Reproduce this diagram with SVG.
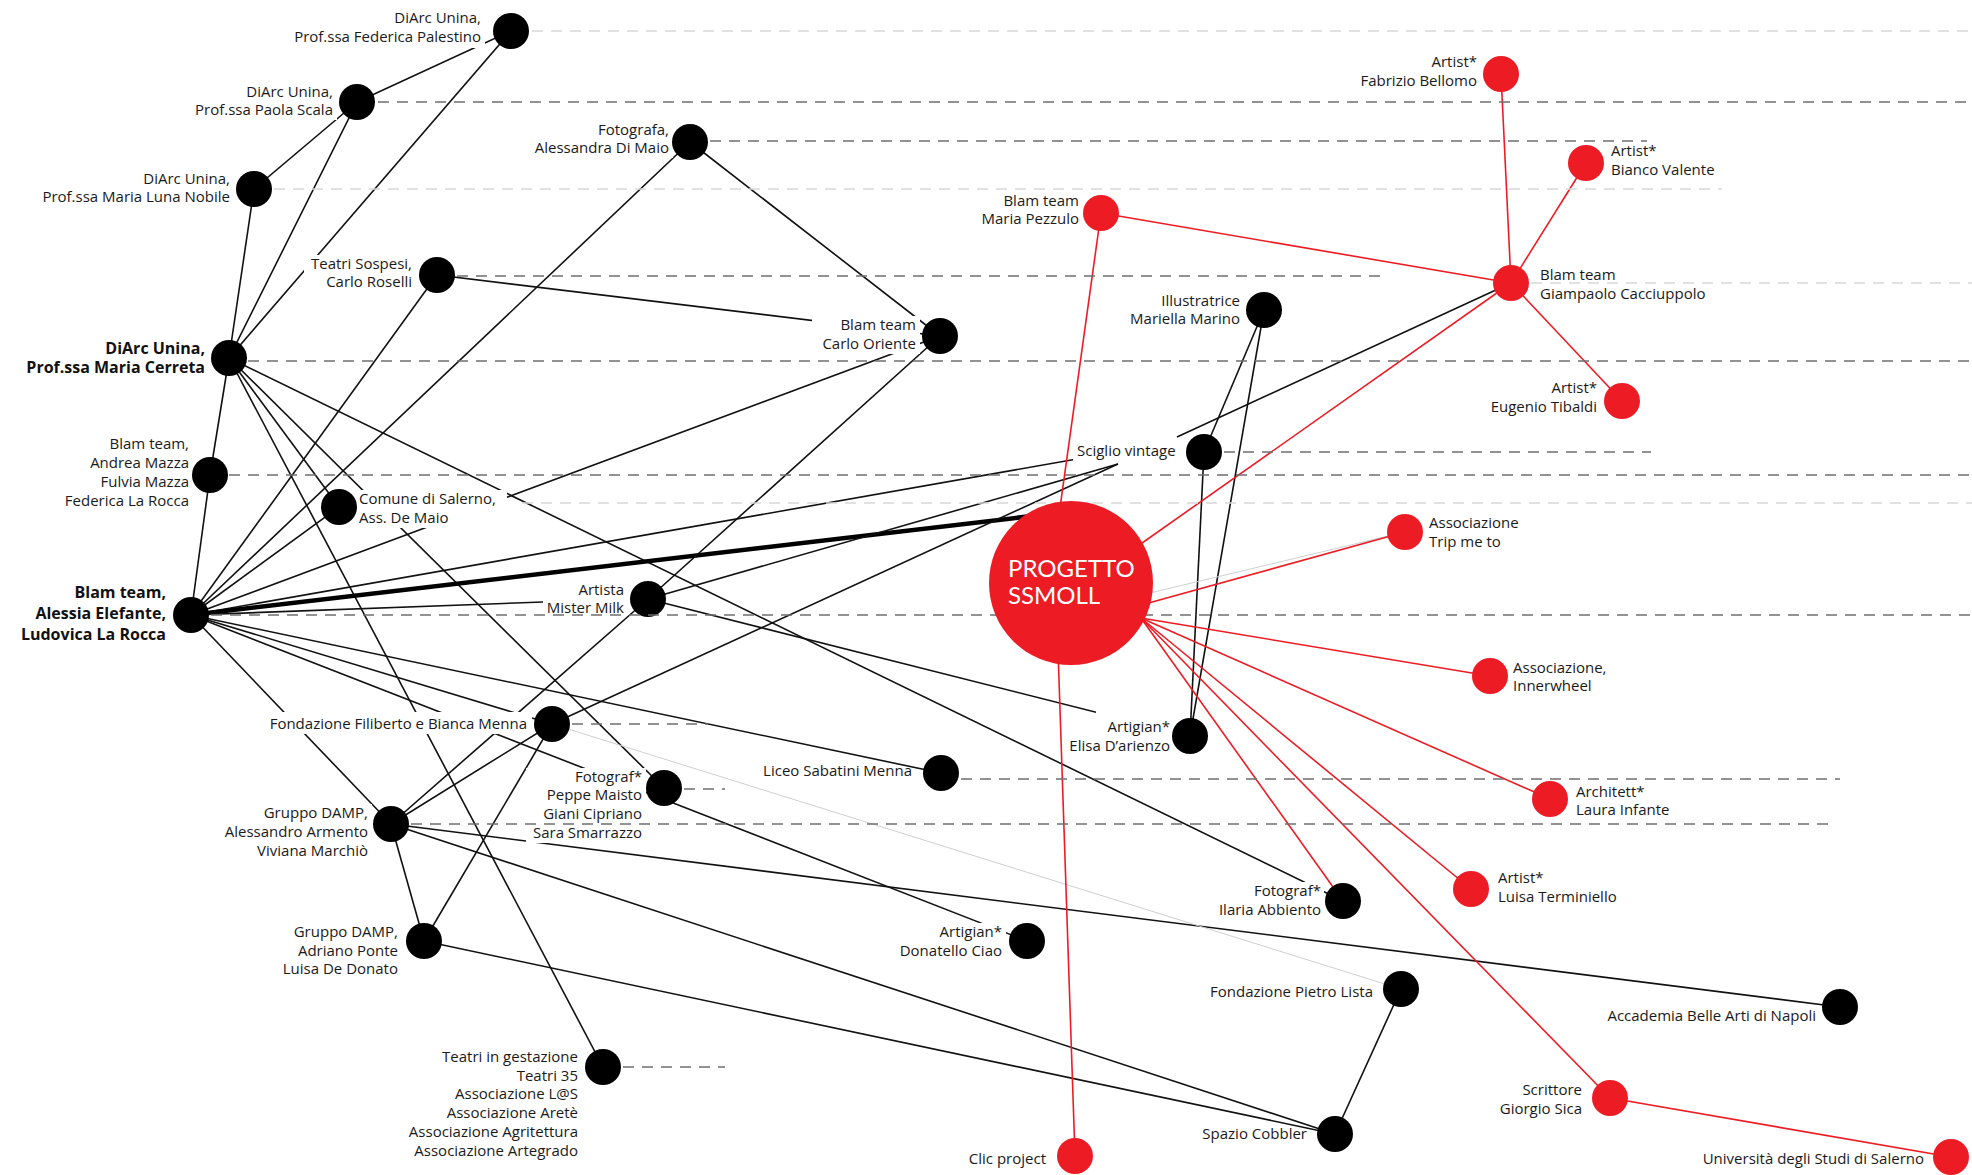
<svg xmlns="http://www.w3.org/2000/svg" width="1972" height="1175" viewBox="0 0 1972 1175">
<defs>
<style>
.e{stroke:#111;stroke-width:1.6;fill:none}
.tk{stroke:#000;stroke-width:4.5;fill:none}
.r{stroke:#ed1c24;stroke-width:1.6;fill:none}
.g{stroke:#cfcfcf;stroke-width:1;fill:none}
.dd{stroke:#6f6f6f;stroke-width:1.5;stroke-dasharray:11 8;fill:none}
.dl{stroke:#d8d8d8;stroke-width:1.5;stroke-dasharray:11 8;fill:none}
.nb{fill:#000}
.nr{fill:#ed1c24}
.bg{fill:#fff}
text{font-family:"Open Sans",Lato,"Liberation Sans",sans-serif;font-size:15px;fill:#1a1a1a}
text.b{font-weight:bold;font-size:16px;fill:#111}
text.c{font-family:Lato,"Open Sans",sans-serif;font-size:24px;fill:#fff}
</style>
</defs>
<rect width="1972" height="1175" fill="#fff"/>

<g id="connectors">
<line class="e" x1="511" y1="31" x2="357" y2="102"/>
<line class="e" x1="511" y1="31" x2="229" y2="358"/>
<line class="e" x1="357" y1="102" x2="254" y2="189"/>
<line class="e" x1="357" y1="102" x2="229" y2="358"/>
<line class="e" x1="254" y1="189" x2="229" y2="358"/>
<line class="e" x1="437" y1="275" x2="940" y2="336"/>
<line class="e" x1="437" y1="275" x2="191" y2="615"/>
<line class="e" x1="229" y1="358" x2="210" y2="475"/>
<line class="e" x1="210" y1="475" x2="191" y2="615"/>
<line class="e" x1="229" y1="358" x2="339" y2="507"/>
<line class="e" x1="229" y1="358" x2="664" y2="788"/>
<line class="e" x1="229" y1="358" x2="603" y2="1067"/>
<line class="e" x1="229" y1="358" x2="1343" y2="901"/>
<line class="e" x1="191" y1="615" x2="339" y2="507"/>
<line class="e" x1="191" y1="615" x2="690" y2="142"/>
<line class="e" x1="191" y1="615" x2="940" y2="336"/>
<line class="e" x1="191" y1="615" x2="1077" y2="459"/>
<line class="tk" x1="191" y1="615" x2="1032" y2="516"/>
<line class="e" x1="191" y1="615" x2="543" y2="602"/>
<line class="e" x1="191" y1="615" x2="941" y2="773"/>
<line class="e" x1="191" y1="615" x2="552" y2="724"/>
<line class="e" x1="191" y1="615" x2="1027" y2="941"/>
<line class="e" x1="191" y1="615" x2="391" y2="824"/>
<line class="e" x1="690" y1="142" x2="940" y2="336"/>
<line class="e" x1="940" y1="336" x2="648" y2="599"/>
<line class="e" x1="648" y1="599" x2="391" y2="824"/>
<line class="e" x1="648" y1="599" x2="1118" y2="464"/>
<line class="e" x1="648" y1="599" x2="1190" y2="736"/>
<line class="e" x1="552" y1="724" x2="1118" y2="464"/>
<line class="e" x1="1511" y1="283" x2="1177" y2="437"/>
<line class="e" x1="552" y1="724" x2="391" y2="824"/>
<line class="e" x1="552" y1="724" x2="424" y2="941"/>
<line class="e" x1="391" y1="824" x2="424" y2="941"/>
<line class="e" x1="391" y1="824" x2="1840" y2="1007"/>
<line class="e" x1="391" y1="824" x2="1335" y2="1134"/>
<line class="e" x1="424" y1="941" x2="1335" y2="1134"/>
<line class="e" x1="1335" y1="1134" x2="1401" y2="989"/>
<line class="e" x1="1264" y1="310" x2="1204" y2="452"/>
<line class="e" x1="1264" y1="310" x2="1190" y2="736"/>
<line class="e" x1="1204" y1="452" x2="1190" y2="736"/>
<line class="g" x1="552" y1="724" x2="1401" y2="989"/>
<line class="g" x1="1150" y1="593" x2="1405" y2="532"/>
<line class="r" x1="1101" y1="213" x2="1511" y2="283"/>
<line class="r" x1="1101" y1="213" x2="1059" y2="515"/>
<line class="r" x1="1058" y1="650" x2="1075" y2="1156"/>
<line class="r" x1="1501" y1="74" x2="1511" y2="283"/>
<line class="r" x1="1586" y1="163" x2="1511" y2="283"/>
<line class="r" x1="1511" y1="283" x2="1622" y2="401"/>
<line class="r" x1="1511" y1="283" x2="1135" y2="548"/>
<line class="r" x1="1145" y1="604" x2="1405" y2="532"/>
<line class="r" x1="1141" y1="618" x2="1490" y2="676"/>
<line class="r" x1="1141" y1="618" x2="1550" y2="799"/>
<line class="r" x1="1141" y1="618" x2="1471" y2="889"/>
<line class="r" x1="1141" y1="618" x2="1610" y2="1098"/>
<line class="r" x1="1141" y1="618" x2="1343" y2="901"/>
<line class="r" x1="1610" y1="1098" x2="1951" y2="1157"/>
</g>

<g id="n-palestino"><rect class="bg" x="284" y="9" width="201" height="39"/><text text-anchor="end"><tspan x="481" y="23">DiArc Unina,</tspan><tspan x="481" y="42">Prof.ssa Federica Palestino</tspan></text><circle class="nb" cx="511" cy="31" r="18"/></g>
<g id="n-scala"><rect class="bg" x="187" y="83" width="150" height="37"/><text text-anchor="end"><tspan x="333" y="97">DiArc Unina,</tspan><tspan x="333" y="115">Prof.ssa Paola Scala</tspan></text><circle class="nb" cx="357" cy="102" r="18"/></g>
<g id="n-nobile"><rect class="bg" x="32" y="170" width="202" height="37"/><text text-anchor="end"><tspan x="230" y="184">DiArc Unina,</tspan><tspan x="230" y="202">Prof.ssa Maria Luna Nobile</tspan></text><circle class="nb" cx="254" cy="189" r="18"/></g>
<g id="n-sospesi"><rect class="bg" x="304" y="255" width="113" height="37"/><text text-anchor="end"><tspan x="412" y="269">Teatri Sospesi,</tspan><tspan x="412" y="287">Carlo Roselli</tspan></text><circle class="nb" cx="437" cy="275" r="18"/></g>
<g id="n-cerreta"><rect class="bg" x="20" y="339" width="190" height="39"/><text class="b" text-anchor="end"><tspan x="205" y="354">DiArc Unina,</tspan><tspan x="205" y="373">Prof.ssa Maria Cerreta</tspan></text><circle class="nb" cx="229" cy="358" r="18"/></g>
<g id="n-mazza"><rect class="bg" x="53" y="435" width="140" height="76"/><text text-anchor="end"><tspan x="189" y="449">Blam team,</tspan><tspan x="189" y="468">Andrea Mazza</tspan><tspan x="189" y="487">Fulvia Mazza</tspan><tspan x="189" y="506">Federica La Rocca</tspan></text><circle class="nb" cx="210" cy="475" r="18"/></g>
<g id="n-comune"><rect class="bg" x="355" y="490" width="152" height="38"/><text><tspan x="359" y="504">Comune di Salerno,</tspan><tspan x="359" y="523">Ass. De Maio</tspan></text><circle class="nb" cx="339" cy="507" r="18"/></g>
<g id="n-elefante"><rect class="bg" x="9" y="583" width="162" height="62"/><text class="b" text-anchor="end"><tspan x="166" y="598">Blam team,</tspan><tspan x="166" y="619">Alessia Elefante,</tspan><tspan x="166" y="640">Ludovica La Rocca</tspan></text><circle class="nb" cx="191" cy="615" r="18"/></g>
<g id="n-dimaio"><rect class="bg" x="526" y="121" width="147" height="37"/><text text-anchor="end"><tspan x="669" y="135">Fotografa,</tspan><tspan x="669" y="153">Alessandra Di Maio</tspan></text><circle class="nb" cx="690" cy="142" r="18"/></g>
<g id="n-oriente"><rect class="bg" x="812" y="316" width="108" height="38"/><text text-anchor="end"><tspan x="916" y="330">Blam team</tspan><tspan x="916" y="349">Carlo Oriente</tspan></text><circle class="nb" cx="940" cy="336" r="18"/></g>
<g id="n-milk"><text text-anchor="end"><tspan x="624" y="595">Artista</tspan><tspan x="624" y="613">Mister Milk</tspan></text><circle class="nb" cx="648" cy="599" r="18"/></g>
<g id="n-filiberto"><rect class="bg" x="251" y="712" width="281" height="22"/><text text-anchor="end"><tspan x="527" y="729">Fondazione Filiberto e Bianca Menna</tspan></text><circle class="nb" cx="552" cy="724" r="18"/></g>
<g id="n-maisto"><rect class="bg" x="526" y="768" width="120" height="75"/><text text-anchor="end"><tspan x="642" y="782">Fotograf*</tspan><tspan x="642" y="800">Peppe Maisto</tspan><tspan x="642" y="819">Giani Cipriano</tspan><tspan x="642" y="838">Sara Smarrazzo</tspan></text><circle class="nb" cx="664" cy="788" r="18"/></g>
<g id="n-liceo"><text text-anchor="end"><tspan x="912" y="776">Liceo Sabatini Menna</tspan></text><circle class="nb" cx="941" cy="773" r="18"/></g>
<g id="n-armento"><rect class="bg" x="214" y="804" width="158" height="57"/><text text-anchor="end"><tspan x="368" y="818">Gruppo DAMP,</tspan><tspan x="368" y="837">Alessandro Armento</tspan><tspan x="368" y="856">Viviana Marchiò</tspan></text><circle class="nb" cx="391" cy="824" r="18"/></g>
<g id="n-adriano"><rect class="bg" x="274" y="923" width="128" height="56"/><text text-anchor="end"><tspan x="398" y="937">Gruppo DAMP,</tspan><tspan x="398" y="956">Adriano Ponte</tspan><tspan x="398" y="974">Luisa De Donato</tspan></text><circle class="nb" cx="424" cy="941" r="18"/></g>
<g id="n-gestazione"><rect class="bg" x="395" y="1048" width="187" height="113"/><text text-anchor="end"><tspan x="578" y="1062">Teatri in gestazione</tspan><tspan x="578" y="1081">Teatri 35</tspan><tspan x="578" y="1099">Associazione L@S</tspan><tspan x="578" y="1118">Associazione Aretè</tspan><tspan x="578" y="1137">Associazione Agritettura</tspan><tspan x="578" y="1156">Associazione Artegrado</tspan></text><circle class="nb" cx="603" cy="1067" r="18"/></g>
<g id="n-donatello"><rect class="bg" x="889" y="923" width="117" height="38"/><text text-anchor="end"><tspan x="1002" y="937">Artigian*</tspan><tspan x="1002" y="956">Donatello Ciao</tspan></text><circle class="nb" cx="1027" cy="941" r="18"/></g>
<g id="n-mariella"><rect class="bg" x="1122" y="292" width="122" height="37"/><text text-anchor="end"><tspan x="1240" y="306">Illustratrice</tspan><tspan x="1240" y="324">Mariella Marino</tspan></text><circle class="nb" cx="1264" cy="310" r="18"/></g>
<g id="n-sciglio"><rect class="bg" x="1073" y="441" width="114" height="20"/><text><tspan x="1077" y="456">Sciglio vintage</tspan></text><circle class="nb" cx="1204" cy="452" r="18"/></g>
<g id="n-elisa"><rect class="bg" x="1096" y="710" width="78" height="27"/><rect class="bg" x="1065" y="737" width="109" height="19"/><text text-anchor="end"><tspan x="1170" y="732">Artigian*</tspan><tspan x="1170" y="751">Elisa D’arienzo</tspan></text><circle class="nb" cx="1190" cy="736" r="18"/></g>
<g id="n-ilaria"><rect class="bg" x="1210" y="882" width="114" height="38"/><text text-anchor="end"><tspan x="1321" y="896">Fotograf*</tspan><tspan x="1321" y="915">Ilaria Abbiento</tspan></text><circle class="nb" cx="1343" cy="901" r="18"/></g>
<g id="n-lista"><text text-anchor="end"><tspan x="1373" y="997">Fondazione Pietro Lista</tspan></text><circle class="nb" cx="1401" cy="989" r="18"/></g>
<g id="n-cobbler"><text text-anchor="end"><tspan x="1307" y="1139">Spazio Cobbler</tspan></text><circle class="nb" cx="1335" cy="1134" r="18"/></g>
<g id="n-accademia"><text text-anchor="end"><tspan x="1816" y="1021">Accademia Belle Arti di Napoli</tspan></text><circle class="nb" cx="1840" cy="1007" r="18"/></g>

<g id="n-bellomo"><text text-anchor="end"><tspan x="1477" y="67">Artist*</tspan><tspan x="1477" y="86">Fabrizio Bellomo</tspan></text><circle class="nr" cx="1501" cy="74" r="18"/></g>
<g id="n-valente"><text><tspan x="1611" y="156">Artist*</tspan><tspan x="1611" y="175">Bianco Valente</tspan></text><circle class="nr" cx="1586" cy="163" r="18"/></g>
<g id="n-pezzulo"><text text-anchor="end"><tspan x="1079" y="206">Blam team</tspan><tspan x="1079" y="224">Maria Pezzulo</tspan></text><circle class="nr" cx="1101" cy="213" r="18"/></g>
<g id="n-giampaolo"><text><tspan x="1540" y="280">Blam team</tspan><tspan x="1540" y="299">Giampaolo Cacciuppolo</tspan></text><circle class="nr" cx="1511" cy="283" r="18"/></g>
<g id="n-tibaldi"><text text-anchor="end"><tspan x="1597" y="393">Artist*</tspan><tspan x="1597" y="412">Eugenio Tibaldi</tspan></text><circle class="nr" cx="1622" cy="401" r="18"/></g>
<g id="n-trip"><text><tspan x="1429" y="528">Associazione</tspan><tspan x="1429" y="547">Trip me to</tspan></text><circle class="nr" cx="1405" cy="532" r="18"/></g>
<g id="n-innerwheel"><text><tspan x="1513" y="673">Associazione,</tspan><tspan x="1513" y="691">Innerwheel</tspan></text><circle class="nr" cx="1490" cy="676" r="18"/></g>
<g id="n-infante"><text><tspan x="1576" y="797">Architett*</tspan><tspan x="1576" y="815">Laura Infante</tspan></text><circle class="nr" cx="1550" cy="799" r="18"/></g>
<g id="n-terminiello"><text><tspan x="1498" y="883">Artist*</tspan><tspan x="1498" y="902">Luisa Terminiello</tspan></text><circle class="nr" cx="1471" cy="889" r="18"/></g>
<g id="n-sica"><text text-anchor="end"><tspan x="1582" y="1095">Scrittore</tspan><tspan x="1582" y="1114">Giorgio Sica</tspan></text><circle class="nr" cx="1610" cy="1098" r="18"/></g>
<g id="n-unisa"><text text-anchor="end"><tspan x="1924" y="1164">Università degli Studi di Salerno</tspan></text><circle class="nr" cx="1951" cy="1157" r="18"/></g>
<g id="n-clic"><text text-anchor="end"><tspan x="1046" y="1164">Clic project</tspan></text><circle class="nr" cx="1075" cy="1156" r="18"/></g>

<g id="guides">
<line class="dl" x1="532" y1="31" x2="1972" y2="31"/>
<line class="dd" x1="378" y1="102" x2="1972" y2="102"/>
<line class="dd" x1="710" y1="141" x2="1647" y2="141"/>
<line class="dl" x1="274" y1="189" x2="1722" y2="189"/>
<line class="dd" x1="457" y1="276" x2="1386" y2="276"/>
<line class="dl" x1="1531" y1="283" x2="1972" y2="283"/>
<line class="dd" x1="248" y1="361" x2="1972" y2="361"/>
<line class="dd" x1="1224" y1="452" x2="1651" y2="452"/>
<line class="dd" x1="229" y1="475" x2="1972" y2="475"/>
<line class="dl" x1="522" y1="503" x2="1972" y2="503"/>
<line class="dd" x1="211" y1="615" x2="1972" y2="615"/>
<line class="dd" x1="572" y1="724" x2="708" y2="724"/>
<line class="dd" x1="961" y1="779" x2="1840" y2="779"/>
<line class="dd" x1="684" y1="789" x2="725" y2="789"/>
<line class="dd" x1="411" y1="824" x2="1834" y2="824"/>
<line class="dd" x1="623" y1="1067" x2="725" y2="1067"/>
</g>

<g id="n-ssmoll"><circle class="nr" cx="1071" cy="583" r="82"/><text class="c"><tspan x="1008" y="577">PROGETTO</tspan><tspan x="1008" y="604">SSMOLL</tspan></text></g>
</svg>
